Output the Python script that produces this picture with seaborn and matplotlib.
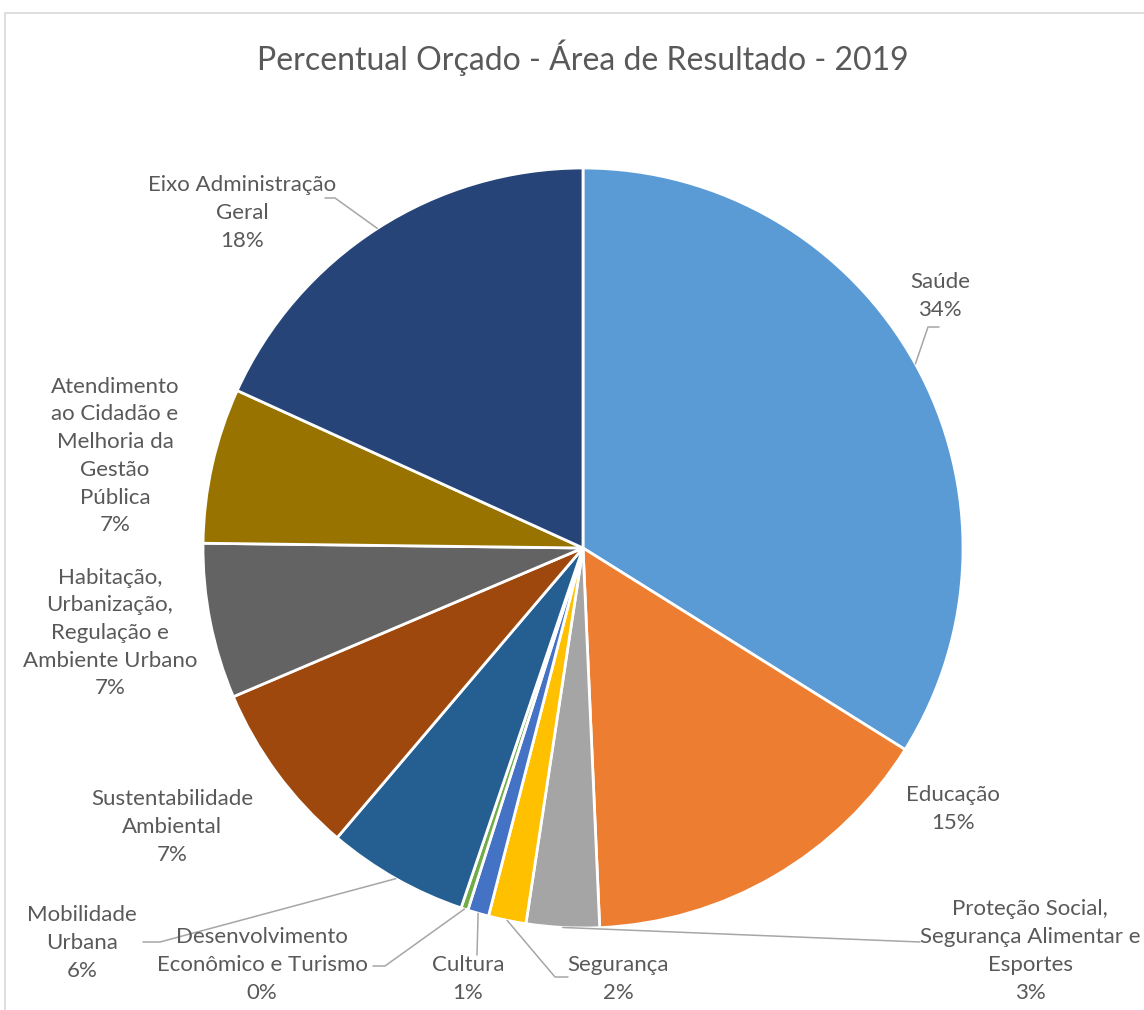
import numpy as np
import matplotlib
matplotlib.use("Agg")
import matplotlib.pyplot as plt
import seaborn as sns
from matplotlib.patches import Rectangle

# ---------------- data ----------------
categories = [
    "Saúde",
    "Educação",
    "Proteção Social,\nSegurança Alimentar e\nEsportes",
    "Segurança",
    "Cultura",
    "Desenvolvimento\nEconômico e Turismo",
    "Mobilidade\nUrbana",
    "Sustentabilidade\nAmbiental",
    "Habitação,\nUrbanização,\nRegulação e\nAmbiente Urbano",
    "Atendimento\nao Cidadão e\nMelhoria da\nGestão\nPública",
    "Eixo Administração\nGeral",
]
values = [33.9, 15.4, 3.1, 1.6, 0.9, 0.3, 6.0, 7.4, 6.6, 6.6, 18.2]
colors = ["#5B9BD5", "#ED7D31", "#A5A5A5", "#FFC000", "#4472C4", "#70AD47",
          "#255E91", "#9E480E", "#636363", "#997300", "#264478"]
title = "Percentual Orçado - Área de Resultado - 2019"

# ---------------- layout (pixels of a 1144x1010 canvas) ----------------
W, H = 1144, 1010
CX, CY, R = 583, 548, 380
label_pos = [(940, 296), (953, 809), (1030, 951), (618, 979), (468, 979),
             (262, 965), (82, 943), (172, 827), (110, 633), (115, 456), (242, 213)]
leaders = {
    0: [(928, 327), (939, 327)],
    10: [(335, 198), (325, 198)],
    6: [(160, 942), (143, 942)],
    5: [(385, 966), (373, 966)],
    4: [(477, 955)],
    3: [(555, 977), (568, 977)],
    2: [(920, 942)],
}

def to_data(p):
    return ((p[0] - CX) / R, (CY - p[1]) / R)

sns.set_theme(style="white")
plt.rcParams["font.family"] = ["Lato", "DejaVu Sans"]

fig = plt.figure(figsize=(W / 100, H / 100), dpi=100)
fig.patch.set_facecolor("white")
fig.patches.append(Rectangle((5 / W, -0.05), 1.2, 1 - 13 / H + 0.05,
                             transform=fig.transFigure, fill=False,
                             edgecolor="#D9D9D9", linewidth=1.2))

ax = fig.add_axes([(CX - R) / W, (H - CY - R) / H, 2 * R / W, 2 * R / H])
palette = sns.color_palette(colors)
wedges, _ = ax.pie(values, colors=palette, startangle=90, counterclock=False,
                   radius=1.0, wedgeprops=dict(edgecolor="white", linewidth=2))
ax.set_xlim(-1, 1)
ax.set_ylim(-1, 1)
ax.set_aspect("equal")
ax.axis("off")
ax.set_clip_on(False)

total = sum(values)
for i, (cat, v) in enumerate(zip(categories, values)):
    pct = int(round(v / total * 100))
    x, y = to_data(label_pos[i])
    ax.text(x, y, f"{cat}\n{pct}%", ha="center", va="center", multialignment="center",
            fontsize=16, color="#595959", linespacing=1.48, clip_on=False)

# leader lines from wedge midpoints
for i, pts in leaders.items():
    w = wedges[i]
    ang = np.deg2rad((w.theta1 + w.theta2) / 2)
    sx, sy = np.cos(ang) * 1.0, np.sin(ang) * 1.0
    xs = [sx] + [to_data(p)[0] for p in pts]
    ys = [sy] + [to_data(p)[1] for p in pts]
    ax.plot(xs, ys, color="#A6A6A6", linewidth=1.1, clip_on=False)

fig.text(CX / W, 1 - 58 / H, title, ha="center", va="center",
         fontsize=23, color="#595959")

fig.savefig("out.png", dpi=100, facecolor="white")
